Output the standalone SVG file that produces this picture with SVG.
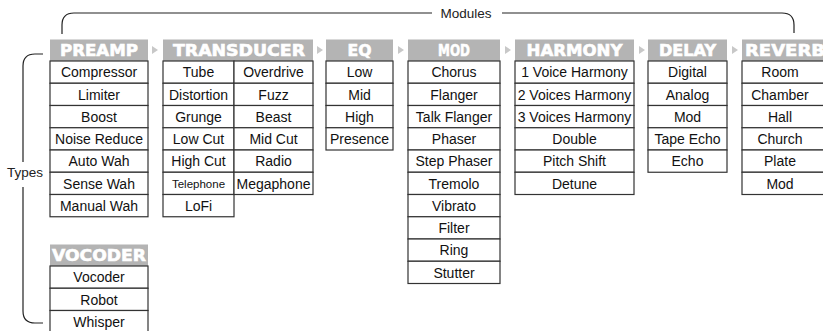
<svg xmlns="http://www.w3.org/2000/svg" width="823" height="331" viewBox="0 0 823 331">
<style>
.hd{fill:#b4b4b4}
.ht{font-family:"DejaVu Sans",sans-serif;font-weight:bold;font-size:16px;fill:#fff;stroke:#fff;stroke-width:0.6;text-anchor:middle}
.c{fill:#fff;stroke:#333;stroke-width:1.2}
.t{font-family:"Liberation Sans",Arial,sans-serif;font-size:14px;fill:#111;text-anchor:middle}
.s{font-size:11.5px}
.br{fill:none;stroke:#222;stroke-width:1.2}
.lb{font-family:"Liberation Sans",Arial,sans-serif;font-size:13.5px;fill:#222;text-anchor:middle}
.ar{fill:#c8c8c8}
</style>
<rect width="823" height="331" fill="#fff"/>
<g id="connectors">
<path class="br" d="M62,34 V25 Q62,13 74,13 H432 M502,13 H782 Q794,13 794,25 V33"/>
<text class="lb" x="466" y="17.5">Modules</text>
<path class="br" d="M43,54 H35 Q23,54 23,66 V162 M23,187 V311 Q23,323 35,323 H43"/>
<text class="lb" x="25" y="177">Types</text>
<polygon class="ar" points="152,46 158,50 152,54"/>
<polygon class="ar" points="317,46 323,50 317,54"/>
<polygon class="ar" points="398,46 404,50 398,54"/>
<polygon class="ar" points="505,46 511,50 505,54"/>
<polygon class="ar" points="639,46 645,50 639,54"/>
<polygon class="ar" points="732,46 738,50 732,54"/>
</g>
<g id="preamp">
<rect class="hd" x="50" y="39.5" width="98" height="21.5"/>
<text class="ht" x="99" y="56" textLength="78" lengthAdjust="spacingAndGlyphs">PREAMP</text>
<rect class="c" x="50" y="61" width="98" height="22.25"/>
<rect class="c" x="50" y="83.25" width="98" height="22.25"/>
<rect class="c" x="50" y="105.5" width="98" height="22.25"/>
<rect class="c" x="50" y="127.75" width="98" height="22.25"/>
<rect class="c" x="50" y="150" width="98" height="22.25"/>
<rect class="c" x="50" y="172.25" width="98" height="22.25"/>
<rect class="c" x="50" y="194.5" width="98" height="22.25"/>
<text class="t" x="99" y="77.3">Compressor</text>
<text class="t" x="99" y="99.55">Limiter</text>
<text class="t" x="99" y="121.8">Boost</text>
<text class="t" x="99" y="144.05">Noise Reduce</text>
<text class="t" x="99" y="166.3">Auto Wah</text>
<text class="t" x="99" y="188.55">Sense Wah</text>
<text class="t" x="99" y="210.8">Manual Wah</text>
</g>
<g id="transducer">
<rect class="hd" x="163" y="39.5" width="150" height="21.5"/>
<text class="ht" x="239" y="56" textLength="132" lengthAdjust="spacingAndGlyphs">TRANSDUCER</text>
<rect class="c" x="163" y="61" width="71" height="22.25"/>
<rect class="c" x="163" y="83.25" width="71" height="22.25"/>
<rect class="c" x="163" y="105.5" width="71" height="22.25"/>
<rect class="c" x="163" y="127.75" width="71" height="22.25"/>
<rect class="c" x="163" y="150" width="71" height="22.25"/>
<rect class="c" x="163" y="172.25" width="71" height="22.25"/>
<rect class="c" x="163" y="194.5" width="71" height="22.25"/>
<rect class="c" x="234" y="61" width="79" height="22.25"/>
<rect class="c" x="234" y="83.25" width="79" height="22.25"/>
<rect class="c" x="234" y="105.5" width="79" height="22.25"/>
<rect class="c" x="234" y="127.75" width="79" height="22.25"/>
<rect class="c" x="234" y="150" width="79" height="22.25"/>
<rect class="c" x="234" y="172.25" width="79" height="22.25"/>
<text class="t" x="198.5" y="77.3">Tube</text>
<text class="t" x="198.5" y="99.55">Distortion</text>
<text class="t" x="198.5" y="121.8">Grunge</text>
<text class="t" x="198.5" y="144.05">Low Cut</text>
<text class="t" x="198.5" y="166.3">High Cut</text>
<text class="t s" x="198.5" y="187.8">Telephone</text>
<text class="t" x="198.5" y="210.8">LoFi</text>
<text class="t" x="273.5" y="77.3">Overdrive</text>
<text class="t" x="273.5" y="99.55">Fuzz</text>
<text class="t" x="273.5" y="121.8">Beast</text>
<text class="t" x="273.5" y="144.05">Mid Cut</text>
<text class="t" x="273.5" y="166.3">Radio</text>
<text class="t" x="273.5" y="188.55">Megaphone</text>
</g>
<g id="eq">
<rect class="hd" x="326" y="39.5" width="67" height="21.5"/>
<text class="ht" x="359.5" y="56" textLength="24" lengthAdjust="spacingAndGlyphs">EQ</text>
<rect class="c" x="326" y="61" width="67" height="22.25"/>
<rect class="c" x="326" y="83.25" width="67" height="22.25"/>
<rect class="c" x="326" y="105.5" width="67" height="22.25"/>
<rect class="c" x="326" y="127.75" width="67" height="22.25"/>
<text class="t" x="359.5" y="77.3">Low</text>
<text class="t" x="359.5" y="99.55">Mid</text>
<text class="t" x="359.5" y="121.8">High</text>
<text class="t" x="359.5" y="144.05">Presence</text>
</g>
<g id="mod">
<rect class="hd" x="408" y="39.5" width="92" height="21.5"/>
<text class="ht" x="454" y="56" textLength="32" lengthAdjust="spacingAndGlyphs">MOD</text>
<rect class="c" x="408" y="61" width="92" height="22.25"/>
<rect class="c" x="408" y="83.25" width="92" height="22.25"/>
<rect class="c" x="408" y="105.5" width="92" height="22.25"/>
<rect class="c" x="408" y="127.75" width="92" height="22.25"/>
<rect class="c" x="408" y="150" width="92" height="22.25"/>
<rect class="c" x="408" y="172.25" width="92" height="22.25"/>
<rect class="c" x="408" y="194.5" width="92" height="22.25"/>
<rect class="c" x="408" y="216.75" width="92" height="22.25"/>
<rect class="c" x="408" y="239" width="92" height="22.25"/>
<rect class="c" x="408" y="261.25" width="92" height="22.25"/>
<text class="t" x="454" y="77.3">Chorus</text>
<text class="t" x="454" y="99.55">Flanger</text>
<text class="t" x="454" y="121.8">Talk Flanger</text>
<text class="t" x="454" y="144.05">Phaser</text>
<text class="t" x="454" y="166.3">Step Phaser</text>
<text class="t" x="454" y="188.55">Tremolo</text>
<text class="t" x="454" y="210.8">Vibrato</text>
<text class="t" x="454" y="233.05">Filter</text>
<text class="t" x="454" y="255.3">Ring</text>
<text class="t" x="454" y="277.55">Stutter</text>
</g>
<g id="harmony">
<rect class="hd" x="515" y="39.5" width="119" height="21.5"/>
<text class="ht" x="574.5" y="56" textLength="96" lengthAdjust="spacingAndGlyphs">HARMONY</text>
<rect class="c" x="515" y="61" width="119" height="22.25"/>
<rect class="c" x="515" y="83.25" width="119" height="22.25"/>
<rect class="c" x="515" y="105.5" width="119" height="22.25"/>
<rect class="c" x="515" y="127.75" width="119" height="22.25"/>
<rect class="c" x="515" y="150" width="119" height="22.25"/>
<rect class="c" x="515" y="172.25" width="119" height="22.25"/>
<text class="t" x="574.5" y="77.3">1 Voice Harmony</text>
<text class="t" x="574.5" y="99.55">2 Voices Harmony</text>
<text class="t" x="574.5" y="121.8">3 Voices Harmony</text>
<text class="t" x="574.5" y="144.05">Double</text>
<text class="t" x="574.5" y="166.3">Pitch Shift</text>
<text class="t" x="574.5" y="188.55">Detune</text>
</g>
<g id="delay">
<rect class="hd" x="648" y="39.5" width="79" height="21.5"/>
<text class="ht" x="687.5" y="56" textLength="57" lengthAdjust="spacingAndGlyphs">DELAY</text>
<rect class="c" x="648" y="61" width="79" height="22.25"/>
<rect class="c" x="648" y="83.25" width="79" height="22.25"/>
<rect class="c" x="648" y="105.5" width="79" height="22.25"/>
<rect class="c" x="648" y="127.75" width="79" height="22.25"/>
<rect class="c" x="648" y="150" width="79" height="22.25"/>
<text class="t" x="687.5" y="77.3">Digital</text>
<text class="t" x="687.5" y="99.55">Analog</text>
<text class="t" x="687.5" y="121.8">Mod</text>
<text class="t" x="687.5" y="144.05">Tape Echo</text>
<text class="t" x="687.5" y="166.3">Echo</text>
</g>
<g id="reverb">
<rect class="hd" x="742" y="39.5" width="90" height="21.5"/>
<text class="ht" x="785" y="56" textLength="80" lengthAdjust="spacingAndGlyphs">REVERB</text>
<rect class="c" x="742" y="61" width="90" height="22.25"/>
<rect class="c" x="742" y="83.25" width="90" height="22.25"/>
<rect class="c" x="742" y="105.5" width="90" height="22.25"/>
<rect class="c" x="742" y="127.75" width="90" height="22.25"/>
<rect class="c" x="742" y="150" width="90" height="22.25"/>
<rect class="c" x="742" y="172.25" width="90" height="22.25"/>
<text class="t" x="780" y="77.3">Room</text>
<text class="t" x="780" y="99.55">Chamber</text>
<text class="t" x="780" y="121.8">Hall</text>
<text class="t" x="780" y="144.05">Church</text>
<text class="t" x="780" y="166.3">Plate</text>
<text class="t" x="780" y="188.55">Mod</text>
</g>
<g id="vocoder">
<rect class="hd" x="50" y="244.5" width="98" height="21.5"/>
<text class="ht" x="99" y="261" textLength="94" lengthAdjust="spacingAndGlyphs">VOCODER</text>
<rect class="c" x="50" y="266" width="98" height="22.25"/>
<rect class="c" x="50" y="288.25" width="98" height="22.25"/>
<rect class="c" x="50" y="310.5" width="98" height="22.25"/>
<text class="t" x="99" y="282.3">Vocoder</text>
<text class="t" x="99" y="304.55">Robot</text>
<text class="t" x="99" y="326.8">Whisper</text>
</g>
</svg>
